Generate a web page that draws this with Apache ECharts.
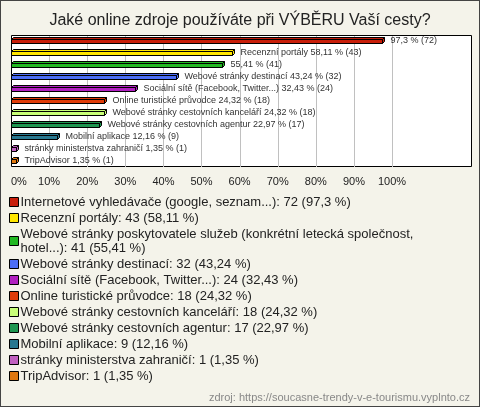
<!DOCTYPE html>
<html>
<head>
<meta charset="utf-8">
<script src="https://cdn.jsdelivr.net/npm/echarts@6/dist/echarts.min.js"></script>
<style>
    html, body { margin: 0; padding: 0; background: #f4f3ea; }
    #chart { width: 478px; height: 405px; border: 1px solid #444; }
</style>
</head>
<body>
<div id="chart"></div>
<script>
    // kategorie a hodnoty
    const names = [
        'Internetové vyhledávače (google, seznam...)',
        'Recenzní portály',
        'Webové stránky poskytovatele služeb (konkrétní letecká společnost, hotel...)',
        'Webové stránky destinací',
        'Sociální sítě (Facebook, Twitter...)',
        'Online turistické průvodce',
        'Webové stránky cestovních kanceláří',
        'Webové stránky cestovních agentur',
        'Mobilní aplikace',
        'stránky ministerstva zahraničí',
        'TripAdvisor'
    ]
    // popisky u sloupcu (dlouhe nazvy vynechane)
    const barLabels = [
        '', 'Recenzní portály', '', 'Webové stránky destinací', 'Sociální sítě (Facebook, Twitter...)',
        'Online turistické průvodce', 'Webové stránky cestovních kanceláří', 'Webové stránky cestovních agentur',
        'Mobilní aplikace', 'stránky ministerstva zahraničí', 'TripAdvisor'
    ]
    const counts = [72, 43, 41, 32, 24, 18, 18, 17, 9, 1, 1]
    const percents = [97.3, 58.11, 55.41, 43.24, 32.43, 24.32, 24.32, 22.97, 12.16, 1.35, 1.35]
    const colors = ['#c81e0a', '#ffe600', '#22b822', '#4c6ef5', '#b020c0', '#e03c0a',
        '#c8ff78', '#1e9650', '#287890', '#c060c0', '#e07810']
    const xTicks = [0, 10, 20, 30, 40, 50, 60, 70, 80, 90, 100]

    const fmt = v => String(v).replace('.', ',')

    const chart = echarts.init(document.getElementById('chart'))

    function renderBar(params, api) {
        const v = api.value(0)
        const idx = api.value(1)
        const p0 = api.coord([0, idx])
        const p1 = api.coord([v, idx])
        const cy = Math.round(p0[1])
        const x0 = Math.round(p0[0]) + 0.5
        const x1 = Math.round(p1[0]) + 0.5
        const top = cy - 1.5
        const h = 4
        const d = 2
        const c = api.visual('color')
        const i = params.seriesIndex
        const label = (barLabels[i] ? barLabels[i] + ' ' : '') + fmt(percents[i]) + ' % (' + counts[i] + ')'
        const children = []
        // svisle mrizky 10..100 % kresli prvni serie pod sloupce
        if (i === 0) {
            const cs = params.coordSys
            xTicks.slice(1).forEach(t => {
                const gx = Math.round(api.coord([t, idx])[0])
                children.push({
                    type: 'rect',
                    shape: { x: gx, y: cs.y + 1, width: 1, height: cs.height - 1 },
                    style: { fill: '#c0c0c0' }
                })
            })
        }
        children.push(
            {
                type: 'polygon',
                shape: { points: [[x0, top], [x0 + d, top - d], [x1 + d, top - d], [x1, top]] },
                style: { fill: c, stroke: '#000', lineWidth: 1 }
            },
            {
                type: 'polygon',
                shape: { points: [[x1, top], [x1 + d, top - d], [x1 + d, top + h - d], [x1, top + h]] },
                style: { fill: c, stroke: '#000', lineWidth: 1 }
            },
            {
                type: 'rect',
                shape: { x: x0, y: top, width: x1 - x0, height: h },
                style: { fill: c, stroke: '#000', lineWidth: 1 }
            },
            {
                type: 'text',
                style: {
                    x: x1 + d + 6, y: cy, text: label,
                    fill: '#333', font: '9px "Liberation Sans"', verticalAlign: 'middle'
                }
            }
        )
        return { type: 'group', children: children }
    }

    const series = names.map((name, i) => ({
        name: name,
        type: 'custom',
        z: 5,
        itemStyle: { color: colors[i] },
        renderItem: renderBar,
        data: [[percents[i], i]]
    }))

    const options = {
        backgroundColor: '#f4f3ea',
        animation: false,
        textStyle: { fontFamily: 'Liberation Sans' },
        title: {
            text: 'Jaké online zdroje používáte při VÝBĚRU Vaší cesty?',
            left: 'center',
            top: 7,
            textStyle: { fontSize: 16, fontWeight: 'normal', color: '#222', fontFamily: 'Liberation Sans' }
        },
        grid: [
            {
                left: 10, top: 34, width: 461, height: 132, show: false
            },
            {
                left: 10, top: 34, width: 381, height: 132, show: false
            }
        ],
        xAxis: [
            {
                gridIndex: 0, type: 'value', min: 0, max: 121,
                axisLine: { show: false }, axisTick: { show: false },
                axisLabel: { show: false }, splitLine: { show: false }
            },
            {
                gridIndex: 1, type: 'value', min: xTicks[0], max: xTicks[xTicks.length - 1], interval: 10,
                axisLine: { show: false }, axisTick: { show: false },
                axisLabel: {
                    formatter: '{value}%', color: '#222', fontSize: 11, margin: 9,
                    alignMinLabel: 'left'
                },
                splitLine: { show: false }
            }
        ],
        yAxis: [
            {
                gridIndex: 0, type: 'category', inverse: true,
                data: names.map((n, i) => i),
                axisLine: { show: false }, axisTick: { show: false },
                axisLabel: { show: false }, splitLine: { show: false }
            },
            {
                gridIndex: 1, type: 'category', show: false, data: names.map((n, i) => i)
            }
        ],
        legend: {
            orient: 'vertical',
            left: 8,
            top: 194,
            padding: 0,
            selectedMode: false,
            icon: 'rect',
            itemWidth: 9,
            itemHeight: 9,
            itemGap: 2,
            itemStyle: { borderColor: '#000', borderWidth: 1 },
            textStyle: {
                fontSize: 13, color: '#222', fontFamily: 'Liberation Sans',
                lineHeight: 14, padding: [0, 0, 0, -3]
            },
            formatter: name => {
                const i = names.indexOf(name)
                const text = name + ': ' + counts[i] + ' (' + fmt(percents[i]) + ' %)'
                return text.replace('společnost, ', 'společnost,\n')
            },
            data: names
        },
        graphic: [
            {
                // ram a bile pozadi grafu
                type: 'rect',
                z: -10,
                silent: true,
                shape: { x: 10.5, y: 34.5, width: 460, height: 131 },
                style: { fill: '#fff', stroke: '#000', lineWidth: 1 }
            },
            {
                type: 'text',
                right: 9,
                top: 391,
                style: {
                    text: 'zdroj: https://soucasne-trendy-v-e-tourismu.vyplnto.cz',
                    fill: '#888', font: '11px "Liberation Sans"'
                }
            }
        ],
        series: series
    }
    chart.setOption(options)
</script>
</body>
</html>
